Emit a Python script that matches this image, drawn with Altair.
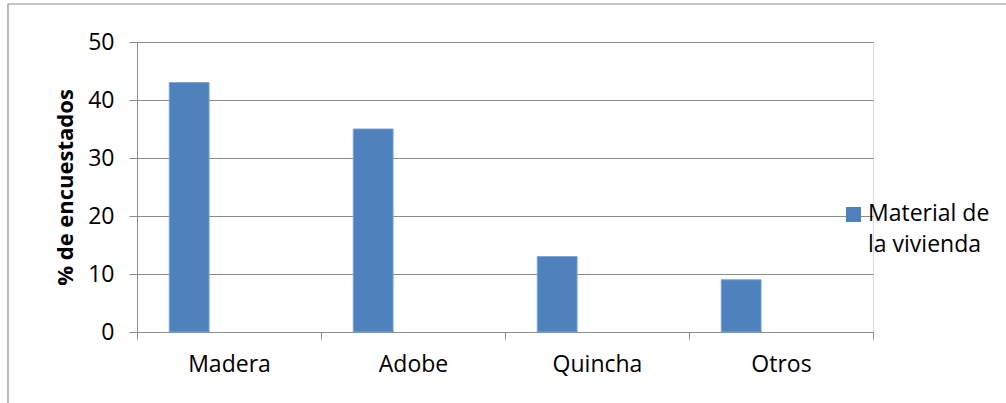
import altair as alt
import pandas as pd

# Survey results: housing material
categories = ["Madera", "Adobe", "Quincha", "Otros"]
values = [43, 35, 13, 9]
series_name = "Material de la vivienda"
legend_lines = ["Material de", "la vivienda"]
# three slots per category; only the first one carries data
series_slots = [series_name, "s2", "s3"]

df = pd.DataFrame({
    "material": categories,
    "pct": values,
    "serie": [series_name] * len(categories),
})

FONT = "Open Sans"
FS = 23
GRID = "#8c8c8c"
BLUE = "#4F81BD"

bars = alt.Chart(df).mark_bar(
    color=BLUE, stroke="#7ea3d4", strokeWidth=1
).encode(
    x=alt.X(
        "material:N",
        sort=categories,
        scale=alt.Scale(paddingInner=0, paddingOuter=0),
        axis=alt.Axis(
            title=None, labelAngle=0, labelFont=FONT, labelFontSize=FS,
            labelColor="#000000", labelPadding=14, tickSize=7,
            tickColor=GRID, domainColor=GRID, tickBand="extent",
            grid=False, labelBaseline="top",
        ),
    ),
    xOffset=alt.XOffset(
        "serie:N",
        scale=alt.Scale(domain=series_slots, paddingInner=0, paddingOuter=0.81),
    ),
    y=alt.Y(
        "pct:Q",
        scale=alt.Scale(domain=[0, 50]),
        axis=alt.Axis(
            title="% de encuestados", titleFont=FONT, titleFontSize=22,
            titleFontWeight="bold", titleColor="#000000", titlePadding=10,
            values=[0, 10, 20, 30, 40, 50], labelFont=FONT, labelFontSize=FS,
            labelColor="#000000", labelPadding=15, tickSize=8,
            tickColor=GRID, domainColor=GRID, gridColor=GRID, gridWidth=1.2,
        ),
    ),
)

# legend: swatch plus a two-line label
legend_df = pd.DataFrame({"serie": [series_name], "label": [legend_lines]})
swatch = alt.Chart(legend_df).mark_square(
    size=225, color=BLUE, opacity=1
).encode(x=alt.value(716.5), y=alt.value(172.5))
swatch_text = alt.Chart(legend_df).mark_text(
    align="left", baseline="middle", font=FONT, fontSize=FS,
    color="#000000", lineHeight=31,
).encode(x=alt.value(731), y=alt.value(172), text="label")

# thin outer frame of the figure
frame = alt.Chart(pd.DataFrame({"k": [0]})).mark_rect(
    fill=None, stroke="#8a8a8a", strokeWidth=1.2
).encode(
    x=alt.value(-129), x2=alt.value(1006 - 137 + 10),
    y=alt.value(-38), y2=alt.value(403 - 42 + 10),
)

chart = alt.layer(frame, bars, swatch, swatch_text).properties(
    width=736, height=290,
    autosize=alt.AutoSizeParams(type="none"),
    padding={"left": 137, "top": 42, "right": 133, "bottom": 71},
).configure_view(stroke=None).configure(background="white")

chart.save("out.html", embed_options={"renderer": "svg", "actions": False})
